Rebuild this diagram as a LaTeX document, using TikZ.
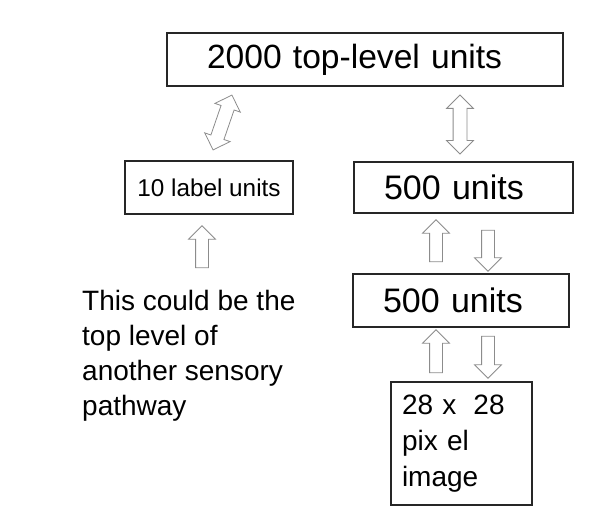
\documentclass[tikz,border=0pt]{standalone}
\usepackage{fontspec}
\setmainfont{Liberation Sans}
\usetikzlibrary{shapes.arrows}
\begin{document}
\begin{tikzpicture}[x=1bp,y=-1bp,
  box/.style={draw=black!85,line width=1.6bp,inner sep=0pt,rectangle},
  uparr/.style={single arrow,draw=black!45,line width=0.8bp,fill=white,inner xsep=0pt,inner ysep=6bp,
    single arrow head extend=7bp},
  dblarr/.style={double arrow,draw=black!45,line width=0.8bp,fill=white,inner xsep=0pt,inner ysep=6.5bp,
    double arrow head extend=6.5bp}]
\useasboundingbox (0,0) rectangle (612,515);
% boxes
\node[box,minimum width=396bp,minimum height=53bp,inner xsep=40bp,text width=316bp,align=left,
  font=\fontsize{33.6bp}{40bp}\selectfont] (top) at (365,59.5) {2000 top-level units};
\node[box,minimum width=168bp,minimum height=53bp,font=\fontsize{24.3bp}{29bp}\selectfont]
  (lab) at (209,187.5) {10 label units};
\node[box,minimum width=219bp,minimum height=51bp,inner xsep=30bp,text width=159bp,align=left,
  font=\fontsize{34bp}{40bp}\selectfont] (hidA) at (463.5,187.5) {500 units};
\node[box,minimum width=216bp,minimum height=53bp,inner xsep=30bp,text width=156bp,align=left,
  font=\fontsize{34bp}{40bp}\selectfont] (hidB) at (461,300.5) {500 units};
\node[box,minimum width=141bp,minimum height=123bp,inner xsep=11bp,text width=119bp,align=left,
  font=\fontsize{28bp}{36bp}\selectfont] (img) at (461.5,443.5) {28 x\hspace{17bp}28\\pix el\\image};
\node[inner sep=0pt,anchor=north west,align=left,font=\fontsize{28bp}{35bp}\selectfont]
  (note) at (82,290) {This could be the\\top level of\\another sensory\\pathway};
% block arrows
\node[dblarr,minimum height=58bp,rotate=71] (arrTL) at (222.5,122.5) {};
\node[dblarr,minimum height=59bp,rotate=90] (arrTR) at (460,124.5) {};
\node[uparr,minimum height=42bp,rotate=90] (arrLab) at (202,250) {};
\node[uparr,minimum height=42bp,rotate=90] (up1) at (436,244) {};
\node[uparr,minimum height=41bp,rotate=-90] (dn1) at (488,247.5) {};
\node[uparr,minimum height=43bp,rotate=90] (up2) at (436,354.5) {};
\node[uparr,minimum height=42bp,rotate=-90] (dn2) at (488,354) {};
\end{tikzpicture}
\end{document}
